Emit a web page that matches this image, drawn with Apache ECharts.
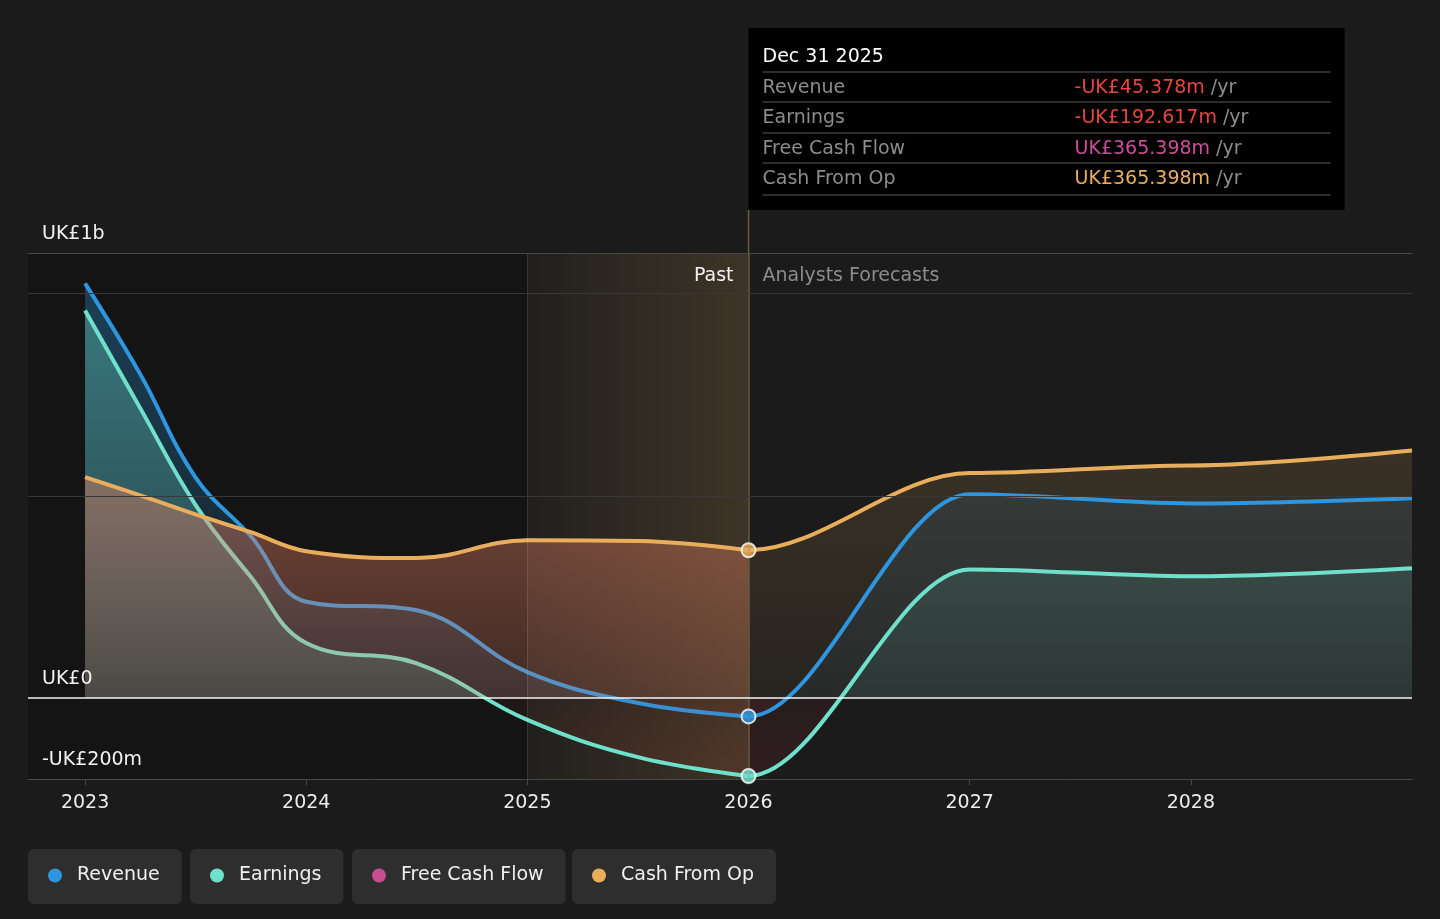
<!DOCTYPE html>
<html>
<head>
<meta charset="utf-8">
<script src="https://cdn.jsdelivr.net/npm/echarts@6/dist/echarts.min.js"></script>
<style>
html,body{margin:0;padding:0;background:#1b1b1b;}
#c{width:1440px;height:919px;}
</style>
</head>
<body>
<div id="c"></div>
<script>
// ---------- data ----------
const pastYears = [2023.0, 2023.25, 2023.5, 2023.75, 2024.0, 2024.5, 2025.0, 2025.5, 2026.0];
const revenuePast = [1025, 800, 545, 400, 238, 217, 64, -12, -45.378];
const earningsPast = [958, 716, 477, 299, 136, 86, -54, -146, -192.617];
const fcfPast = [546, 501, 454, 410, 363, 346, 390, 388, 365.398];
const cfoPast = [546, 501, 454, 410, 363, 346, 390, 388, 365.398];

const forecastYears = [2026.0, 2027.0, 2028.0, 2029.0];
const revenueForecast = [-45.378, 504, 481, 494];
const earningsForecast = [-192.617, 318, 301, 321];
const cfoForecast = [365.398, 556, 575, 612];

const xTickYears = [2023, 2024, 2025, 2026, 2027, 2028];
const yTickValues = [-200, 0, 1100];
const yTickLabels = ['-UK£200m', 'UK£0', 'UK£1b'];
const yGridValues = [500, 1000];
const seriesNames = ['Revenue', 'Earnings', 'Free Cash Flow', 'Cash From Op'];
const tooltipDate = 'Dec 31 2025';
const pastLabel = 'Past';
const forecastLabel = 'Analysts Forecasts';

const xMin = 2022.742, xMax = 2029.0;
const yMin = -200, yMax = 1100, yStep = 100;
const highlightStart = 2025.0, forecastStart = 2026.0;

// ---------- layout / styles ----------
const W = 1440, GRID = { left: 28, right: 28, top: 253, bottom: 140 };
const plotW = W - GRID.left - GRID.right;
const forecastLeft = GRID.left + (forecastStart - xMin) / (xMax - xMin) * plotW;

const FONT = 'DejaVu Sans';
const COL = { rev: '#2d96de', earn: '#6fe0cb', fcf: '#c84d8e', cfo: '#e8ae5c' };
const RGB = { blue: [45,155,227], teal: [111,224,203], coral: [235,130,100], orange: [232,176,96], red: [200,50,60], brown: [185,70,50] };

function rgba(c, a) { return 'rgba(' + c[0] + ',' + c[1] + ',' + c[2] + ',' + a + ')'; }
function grad(vals, pos, pTop, pBot, neg, nTop, nBot) {
  const mx = Math.max(0, ...vals), mn = Math.min(0, ...vals);
  const f = (mx - mn) > 0 ? mx / (mx - mn) : 1;
  const stops = [];
  if (f > 0) { stops.push({ offset: 0, color: rgba(pos, pTop) }); stops.push({ offset: f, color: rgba(pos, pBot) }); }
  if (f < 1) { stops.push({ offset: f, color: rgba(neg, nTop) }); stops.push({ offset: 1, color: rgba(neg, nBot) }); }
  return new echarts.graphic.LinearGradient(0, 0, 0, 1, stops);
}
function curve(name, xs, ys, color, opts) {
  const s = {
    type: 'line', name: name, data: xs.map((x, i) => [x, ys[i]]),
    smooth: opts.monotone ? 0.33 : 0.4, showSymbol: false, symbol: 'none',
    lineStyle: { color: color, width: opts.area ? 0 : (opts.width || 4), opacity: opts.area ? 0 : 1 },
    itemStyle: { color: color },
    z: opts.z, silent: true, emphasis: { disabled: true }, clip: true
  };
  if (opts.monotone) { s.smoothMonotone = 'x'; s.xAxisIndex = 1; s.yAxisIndex = 1; }
  if (opts.area) s.areaStyle = { color: opts.area, opacity: 1 };
  return s;
}
// forecast curves are smoothed with the last past point as a lead-in; the lead-in is clipped away by the forecast grid
const lead = pastYears.length - 2;
const fcX = [pastYears[lead]].concat(forecastYears);
const fcRev = [revenuePast[lead]].concat(revenueForecast);
const fcEarn = [earningsPast[lead]].concat(earningsForecast);
const fcCfo = [cfoPast[lead]].concat(cfoForecast);

const splitColors = [];
for (let v = yMin; v <= yMax; v += yStep) {
  if (v === yMax) splitColors.push('#474747');
  else if (yGridValues.indexOf(v) >= 0) splitColors.push('#383838');
  else splitColors.push('rgba(0,0,0,0)');
}

const chart = echarts.init(document.getElementById('c'), null, { renderer: 'canvas' });

const series = [
  {
    type: 'line', name: 'bg', data: [[xMin, 0]], symbol: 'none', lineStyle: { width: 0 }, z: 1, silent: true,
    markArea: {
      silent: true,
      data: [
        [{ xAxis: xMin, itemStyle: { color: 'rgba(0,0,0,0.26)' } }, { xAxis: highlightStart }],
        [{ xAxis: highlightStart, itemStyle: { color: new echarts.graphic.LinearGradient(0, 0, 1, 0, [
          { offset: 0, color: 'rgba(232,176,96,0.03)' }, { offset: 1, color: 'rgba(232,176,96,0.17)' }]) } },
         { xAxis: forecastStart }]
      ]
    },
    markLine: {
      silent: true, symbol: ['none', 'none'], label: { show: false },
      data: [
        { xAxis: highlightStart, lineStyle: { color: 'rgba(255,255,255,0.12)', width: 1, type: 'solid' } },
        { xAxis: forecastStart, lineStyle: { color: '#6b5a3c', width: 1.5, type: 'solid' } }
      ]
    }
  },
  // past
  curve(seriesNames[0], pastYears, revenuePast, COL.rev, { z: 2, area: grad(revenuePast, RGB.blue, 0.32, 0.08, RGB.brown, 0.06, 0.16) }),
  curve(seriesNames[0], pastYears, revenuePast, COL.rev, { z: 2.1 }),
  curve(seriesNames[1], pastYears, earningsPast, COL.earn, { z: 2.2, area: grad(earningsPast, RGB.teal, 0.35, 0.15, RGB.brown, 0.06, 0.16) }),
  curve(seriesNames[1], pastYears, earningsPast, COL.earn, { z: 2.3 }),
  curve(seriesNames[3], pastYears, cfoPast, COL.cfo, { z: 2.4, area: grad(cfoPast, RGB.coral, 0.45, 0.2, RGB.red, 0.1, 0.2) }),
  curve(seriesNames[2], pastYears, fcfPast, COL.fcf, { z: 2.5, width: 3 }),
  curve(seriesNames[3], pastYears, cfoPast, COL.cfo, { z: 2.6 }),
  // forecast
  curve(seriesNames[3], fcX, fcCfo, COL.cfo, { z: 2, monotone: true, area: grad(cfoForecast, RGB.orange, 0.15, 0.06, RGB.red, 0.06, 0.1) }),
  curve(seriesNames[0], fcX, fcRev, COL.rev, { z: 2, monotone: true, area: grad(revenueForecast, RGB.blue, 0.1, 0.05, RGB.red, 0.07, 0.1) }),
  curve(seriesNames[1], fcX, fcEarn, COL.earn, { z: 2, monotone: true, area: grad(earningsForecast, RGB.teal, 0.12, 0.07, RGB.red, 0.07, 0.12) }),
  curve(seriesNames[3], fcX, fcCfo, COL.cfo, { z: 2.6, monotone: true }),
  curve(seriesNames[0], fcX, fcRev, COL.rev, { z: 2.6, monotone: true }),
  curve(seriesNames[1], fcX, fcEarn, COL.earn, { z: 2.6, monotone: true }),
  {
    type: 'line', name: 'zero', data: [[xMin, 0]], symbol: 'none', lineStyle: { width: 0 }, z: 3, silent: true,
    markLine: {
      silent: true, symbol: ['none', 'none'], label: { show: false },
      lineStyle: { color: '#f4f4f4', width: 1.5, type: 'solid' },
      data: [{ yAxis: 0 }]
    }
  },
  {
    type: 'scatter', name: 'markers', z: 5, silent: true, symbol: 'circle', symbolSize: 14,
    data: [
      { value: [forecastStart, cfoPast[cfoPast.length - 1]], itemStyle: { color: COL.cfo } },
      { value: [forecastStart, revenuePast[revenuePast.length - 1]], itemStyle: { color: COL.rev } },
      { value: [forecastStart, earningsPast[earningsPast.length - 1]], itemStyle: { color: COL.earn } }
    ],
    itemStyle: { borderColor: '#ffffff', borderWidth: 2 }
  }
];

const legendLefts = [28, 190, 352, 572];
const legendColors = [COL.rev, COL.earn, COL.fcf, COL.cfo];

chart.setOption({
  backgroundColor: '#1b1b1b',
  animation: false,
  textStyle: { fontFamily: FONT },
  grid: [
    { left: GRID.left, right: GRID.right, top: GRID.top, bottom: GRID.bottom },
    { left: forecastLeft, right: GRID.right, top: GRID.top, bottom: GRID.bottom }
  ],
  xAxis: [{
    type: 'value', min: xMin, max: xMax, gridIndex: 0,
    axisLine: { show: true, onZero: false, lineStyle: { color: '#474747', width: 1 } },
    axisTick: { show: true, customValues: xTickYears, length: 6, lineStyle: { color: '#474747' } },
    axisLabel: { customValues: xTickYears, formatter: v => String(v), color: '#ececec', fontSize: 19, fontFamily: FONT, margin: 15 },
    splitLine: { show: false }
  }, {
    type: 'value', min: forecastStart, max: xMax, gridIndex: 1, show: false
  }],
  yAxis: [{
    type: 'value', min: yMin, max: yMax, interval: yStep, z: 10, gridIndex: 0,
    axisLine: { show: false }, axisTick: { show: false },
    axisLabel: {
      inside: true, customValues: yTickValues,
      formatter: v => { const i = yTickValues.indexOf(v); return i >= 0 ? yTickLabels[i] : ''; },
      color: '#f2f2f2', fontSize: 19, fontFamily: FONT, margin: 14,
      align: 'left', verticalAlign: 'bottom', lineHeight: 22, padding: [0, 0, 8, 0]
    },
    splitLine: { show: true, lineStyle: { color: splitColors, width: 1 } }
  }, {
    type: 'value', min: yMin, max: yMax, gridIndex: 1, show: false, splitLine: { show: false }
  }],
  legend: seriesNames.map((n, i) => ({
    data: [{ name: n, itemStyle: { color: legendColors[i] } }],
    left: legendLefts[i], top: 849, orient: 'horizontal',
    icon: 'circle', itemWidth: 14, itemHeight: 14, selectedMode: false,
    backgroundColor: '#2e2e2e', borderRadius: 6, padding: [16, 22, 18, 20],
    textStyle: { color: '#f0f0f0', fontSize: 19, fontFamily: FONT, lineHeight: 21, padding: [0, 0, 0, 10] }
  })),
  series: series
});

// ---------- tooltip-like panel and labels ----------
const x26 = chart.convertToPixel({ xAxisIndex: 0 }, forecastStart);
const yTopPx = chart.convertToPixel({ yAxisIndex: 0 }, yMax);
const boxTop = 28, boxH = 182, boxW = 596;
function fmt(v) { return (v < 0 ? '-' : '') + 'UK£' + Math.abs(v).toFixed(3) + 'm'; }
const rows = [
  [seriesNames[0], revenuePast[revenuePast.length - 1], '#e5473f'],
  [seriesNames[1], earningsPast[earningsPast.length - 1], '#e5473f'],
  [seriesNames[2], fcfPast[fcfPast.length - 1], '#c8509a'],
  [seriesNames[3], cfoPast[cfoPast.length - 1], '#e8b060']
];
const g = [];
g.push({ type: 'line', z: 1, shape: { x1: x26, y1: boxTop + boxH, x2: x26, y2: yTopPx }, style: { stroke: '#6b5a3c', lineWidth: 1.5 } });
g.push({ type: 'rect', z: 10, shape: { x: x26, y: boxTop, width: boxW, height: boxH }, style: { fill: '#000000' } });
g.push({ type: 'text', z: 11, x: x26 + 14, y: 57, style: { text: tooltipDate, fill: '#ffffff', fontSize: 19, fontFamily: FONT, verticalAlign: 'middle' } });
const sepYs = [72, 102, 133, 163, 195];
sepYs.forEach(y => g.push({ type: 'line', z: 11, shape: { x1: x26 + 14, y1: y, x2: x26 + 582, y2: y }, style: { stroke: '#3c3c3c', lineWidth: 1.5 } }));
const rowYs = [88, 118, 149, 179];
rows.forEach((r, i) => {
  const c = r[1] < 0 ? '#e5473f' : r[2];
  g.push({ type: 'text', z: 11, x: x26 + 14, y: rowYs[i], style: { text: r[0], fill: '#8c8c8c', fontSize: 19, fontFamily: FONT, verticalAlign: 'middle' } });
  g.push({ type: 'text', z: 11, x: x26 + 326, y: rowYs[i], style: {
    text: '{v|' + fmt(r[1]) + '}{u| /yr}', verticalAlign: 'middle', fontSize: 19, fontFamily: FONT,
    rich: { v: { fill: c, fontSize: 19, fontFamily: FONT }, u: { fill: '#8c8c8c', fontSize: 19, fontFamily: FONT } }
  } });
});
g.push({ type: 'text', z: 11, x: x26 - 15, y: yTopPx + 23, style: { text: pastLabel, fill: '#f2f2f2', fontSize: 19, fontFamily: FONT, align: 'right', verticalAlign: 'middle' } });
g.push({ type: 'text', z: 11, x: x26 + 14, y: yTopPx + 23, style: { text: forecastLabel, fill: '#8c8c8c', fontSize: 19, fontFamily: FONT, align: 'left', verticalAlign: 'middle' } });
chart.setOption({ graphic: { elements: g } });
</script>
</body>
</html>
